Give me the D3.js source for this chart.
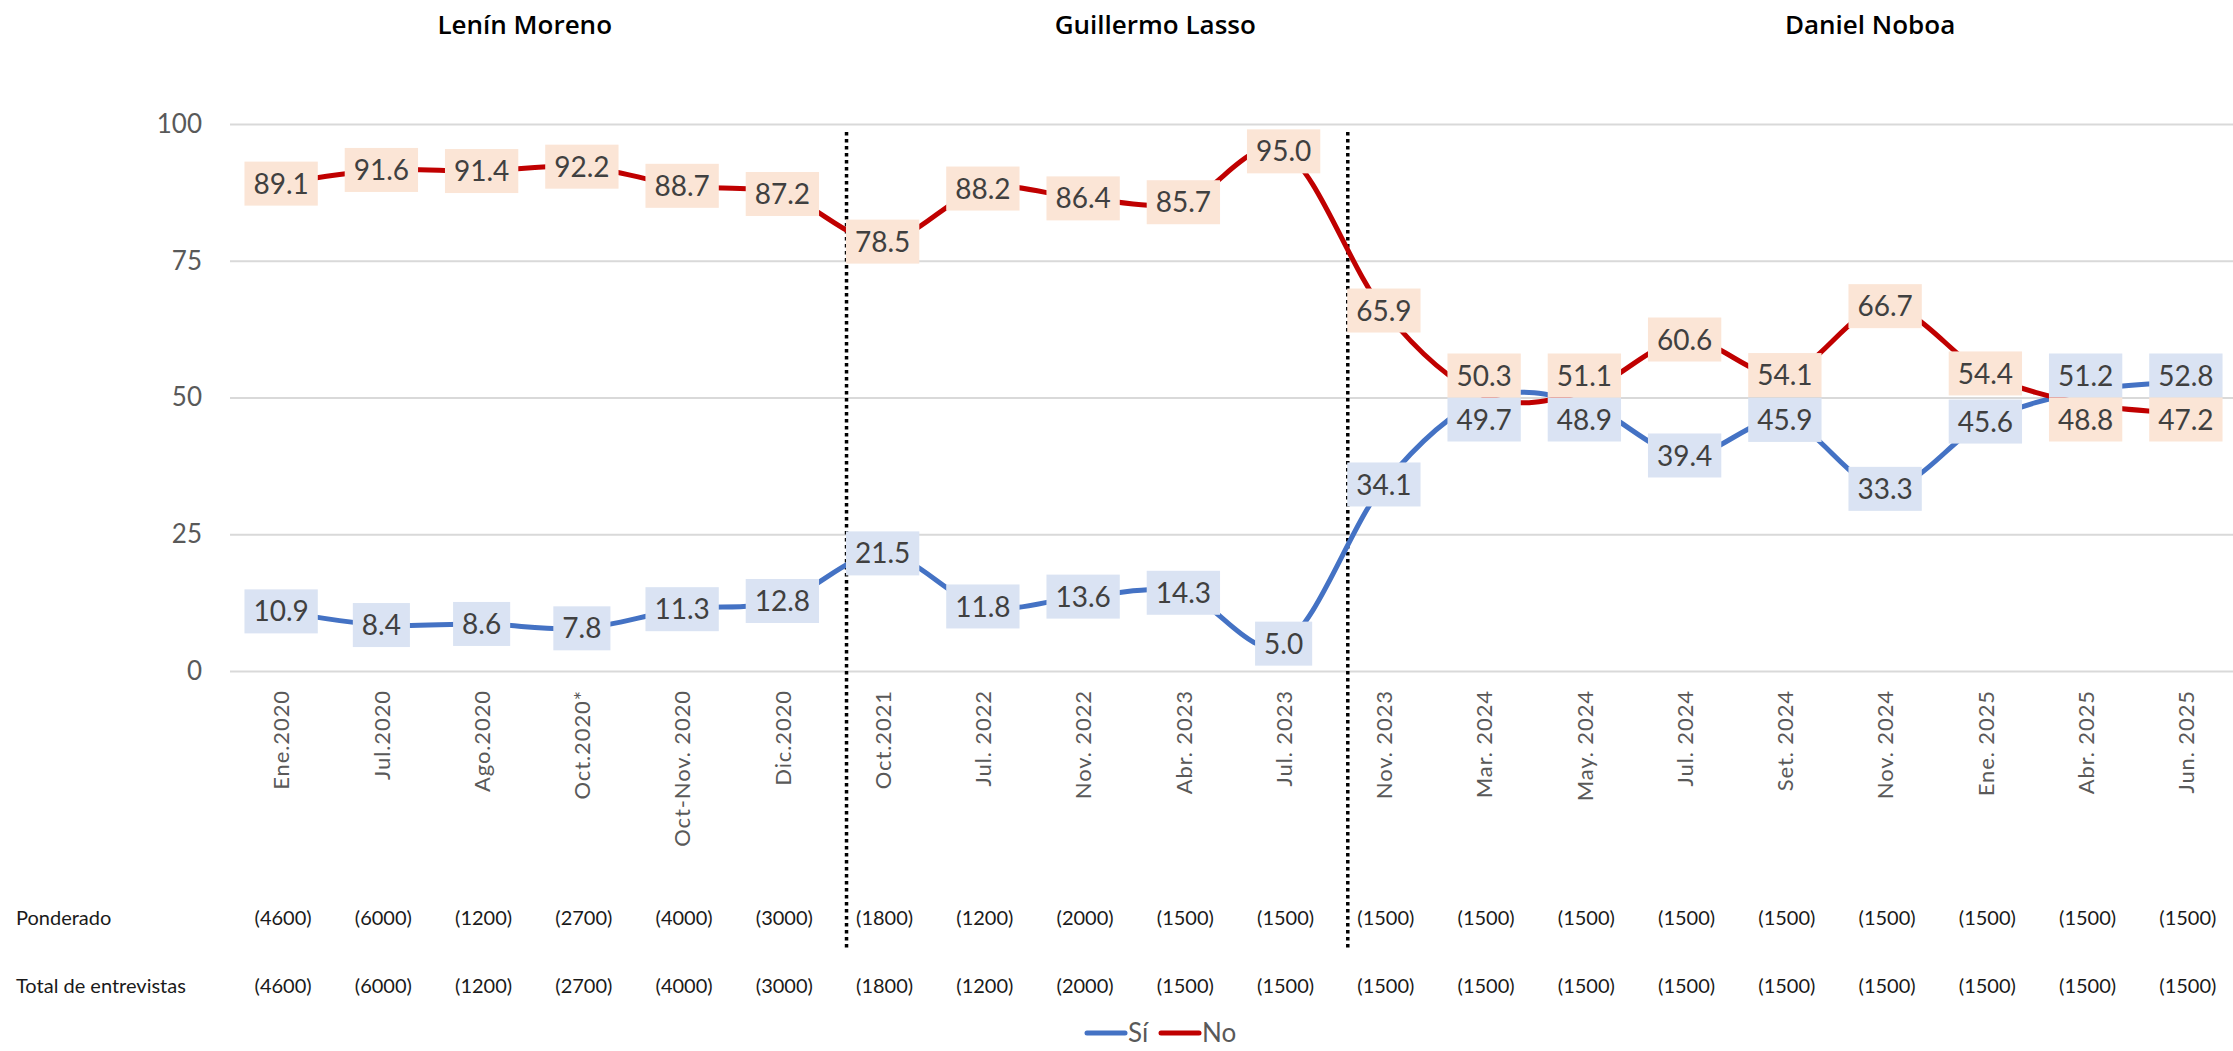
<!DOCTYPE html>
<html>
<head>
    <meta charset="utf-8">
    <title>Sí / No</title>
    <style>
        body { margin: 0; background: #fff; }
        text { font-family: Lato, "Open Sans", sans-serif; }
    </style>
</head>
<body>
    <script src="https://cdnjs.cloudflare.com/ajax/libs/d3/7.9.0/d3.min.js"></script>
    <script>

        // data
        const categories = ["Ene.2020", "Jul.2020", "Ago.2020", "Oct.2020*", "Oct-Nov. 2020", "Dic.2020",
            "Oct.2021", "Jul. 2022", "Nov. 2022", "Abr. 2023", "Jul. 2023",
            "Nov. 2023", "Mar. 2024", "May. 2024", "Jul. 2024", "Set. 2024", "Nov. 2024", "Ene. 2025", "Abr. 2025", "Jun. 2025"];
        const si = [10.9, 8.4, 8.6, 7.8, 11.3, 12.8, 21.5, 11.8, 13.6, 14.3, 5.0, 34.1, 49.7, 48.9, 39.4, 45.9, 33.3, 45.6, 51.2, 52.8];
        const no = [89.1, 91.6, 91.4, 92.2, 88.7, 87.2, 78.5, 88.2, 86.4, 85.7, 95.0, 65.9, 50.3, 51.1, 60.6, 54.1, 66.7, 54.4, 48.8, 47.2];
        const ponderado = [4600, 6000, 1200, 2700, 4000, 3000, 1800, 1200, 2000, 1500, 1500, 1500, 1500, 1500, 1500, 1500, 1500, 1500, 1500, 1500];
        const totalEntrevistas = [4600, 6000, 1200, 2700, 4000, 3000, 1800, 1200, 2000, 1500, 1500, 1500, 1500, 1500, 1500, 1500, 1500, 1500, 1500, 1500];
        const presidents = ["Lenín Moreno", "Guillermo Lasso", "Daniel Noboa"];
        const periodStarts = ["Oct.2021", "Nov. 2023"];   // first survey of each new government
        const yTicks = [0, 25, 50, 75, 100];

        const width = 2233;
        const height = 1051;
        const margin = {top: 124, right: 0, bottom: 380, left: 230};

        const svg = d3.select("body")
            .append("svg")
            .attr("width", width)
            .attr("height", height);

        const x = d3.scalePoint()
            .domain(categories)
            .range([margin.left + 1, 2236])
            .padding(0.5);

        const y = d3.scaleLinear()
            .domain([0, 100])
            .range([height - margin.bottom, margin.top]);

        const step = x.step();

        // gridlines + y labels
        const yAxis = svg.append("g")
            .attr("transform", `translate(${margin.left},0)`)
            .call(d3.axisLeft(y).tickValues(yTicks).tickSize(-(width - margin.left)).tickPadding(28));
        yAxis.select(".domain").remove();
        yAxis.selectAll("line").attr("stroke", "#d9d9d9").attr("stroke-width", 2);
        yAxis.selectAll("text")
            .attr("fill", "#595959")
            .style("font-size", "26px");

        // x labels
        const xAxis = svg.append("g")
            .attr("transform", `translate(0,${y(0)})`)
            .call(d3.axisBottom(x).tickSize(0));
        xAxis.select(".domain").remove();
        xAxis.selectAll("text")
            .attr("transform", "rotate(-90)")
            .attr("x", -19)
            .attr("y", 0)
            .attr("dy", "0.35em")
            .attr("fill", "#595959")
            .style("text-anchor", "end")
            .style("font-size", "22px")
            .style("letter-spacing", "0.9px");

        // dividers between governments
        svg.selectAll(".divider")
            .data(periodStarts)
            .enter()
            .append("line")
            .attr("x1", d => x(d) - step * 0.36)
            .attr("x2", d => x(d) - step * 0.36)
            .attr("y1", 132)
            .attr("y2", 948)
            .attr("stroke", "#000")
            .attr("stroke-width", 3.5)
            .attr("stroke-dasharray", "3.5,3.5");

        // president names
        const titleAt = [2.43, 8.72, 15.85];
        svg.selectAll(".pres")
            .data(presidents)
            .enter()
            .append("text")
            .attr("x", (d, i) => x(categories[0]) + titleAt[i] * step)
            .attr("y", 27)
            .attr("dominant-baseline", "middle")
            .attr("text-anchor", "middle")
            .style("font-family", "'Open Sans', sans-serif")
            .style("font-size", "26px")
            .style("font-weight", 600)
            .attr("fill", "#000")
            .text(d => d);

        // lines
        const series = [
            {name: "Sí", values: si, color: "#4472c4", fill: "#dae3f3"},
            {name: "No", values: no, color: "#c00000", fill: "#fbe5d6"}
        ];

        const line = d3.line()
            .x((d, i) => x(categories[i]))
            .y(d => y(d))
            .curve(d3.curveCardinal.tension(0));

        svg.selectAll(".series")
            .data(series)
            .enter()
            .append("path")
            .attr("fill", "none")
            .attr("stroke", d => d.color)
            .attr("stroke-width", 5)
            .attr("stroke-linejoin", "round")
            .attr("d", d => line(d.values));

        // labels, pushed apart where they would overlap
        const boxH = 44;
        const labels = [];
        categories.forEach((c, i) => {
            let ySi = y(si[i]), yNo = y(no[i]);
            if (Math.abs(ySi - yNo) < boxH) {
                const mid = (ySi + yNo) / 2;
                if (si[i] > no[i]) { ySi = mid - boxH / 2; yNo = mid + boxH / 2; }
                else { yNo = mid - boxH / 2; ySi = mid + boxH / 2; }
            }
            labels.push({cx: x(c), cy: ySi, v: si[i], fill: series[0].fill});
            labels.push({cx: x(c), cy: yNo, v: no[i], fill: series[1].fill});
        });

        const lab = svg.selectAll(".lab")
            .data(labels)
            .enter()
            .append("g");

        const rects = lab.append("rect").attr("fill", d => d.fill);
        const texts = lab.append("text")
            .attr("x", d => d.cx)
            .attr("y", d => d.cy)
            .attr("dy", "0.36em")
            .attr("text-anchor", "middle")
            .attr("fill", "#404040")
            .style("font-size", "28px")
            .text(d => d.v.toFixed(1));

        texts.each(function(d) { d.w = this.getComputedTextLength(); });
        rects
            .attr("x", d => d.cx - d.w / 2 - 9)
            .attr("y", d => d.cy - boxH / 2)
            .attr("width", d => d.w + 18)
            .attr("height", boxH);

        // sample size rows
        const rows = [
            {label: "Ponderado", values: ponderado, y: 920},
            {label: "Total de entrevistas", values: totalEntrevistas, y: 988}
        ];
        rows.forEach(r => {
            svg.append("text")
                .attr("x", 16)
                .attr("y", r.y)
                .attr("dominant-baseline", "middle")
                .style("font-size", "20px")
                .attr("fill", "#1a1a1a")
                .text(r.label);
            svg.selectAll(null)
                .data(r.values)
                .enter()
                .append("text")
                .attr("x", (d, i) => x(categories[i]) + 2)
                .attr("y", r.y)
                .attr("dominant-baseline", "middle")
                .attr("text-anchor", "middle")
                .style("font-size", "20px")
                .attr("fill", "#1a1a1a")
                .text(d => `(${d})`);
        });

        // legend
        const legend = svg.append("g").attr("transform", "translate(1087,1033)");
        series.forEach((s, i) => {
            const g = legend.append("g").attr("transform", `translate(${i * 74},0)`);
            g.append("line")
                .attr("x1", 0).attr("x2", 38)
                .attr("stroke", s.color)
                .attr("stroke-width", 5)
                .attr("stroke-linecap", "round");
            g.append("text")
                .attr("x", 41)
                .attr("dy", "0.34em")
                .attr("fill", "#595959")
                .style("font-size", "26px")
                .text(s.name);
        });

    </script>
</body>
</html>
